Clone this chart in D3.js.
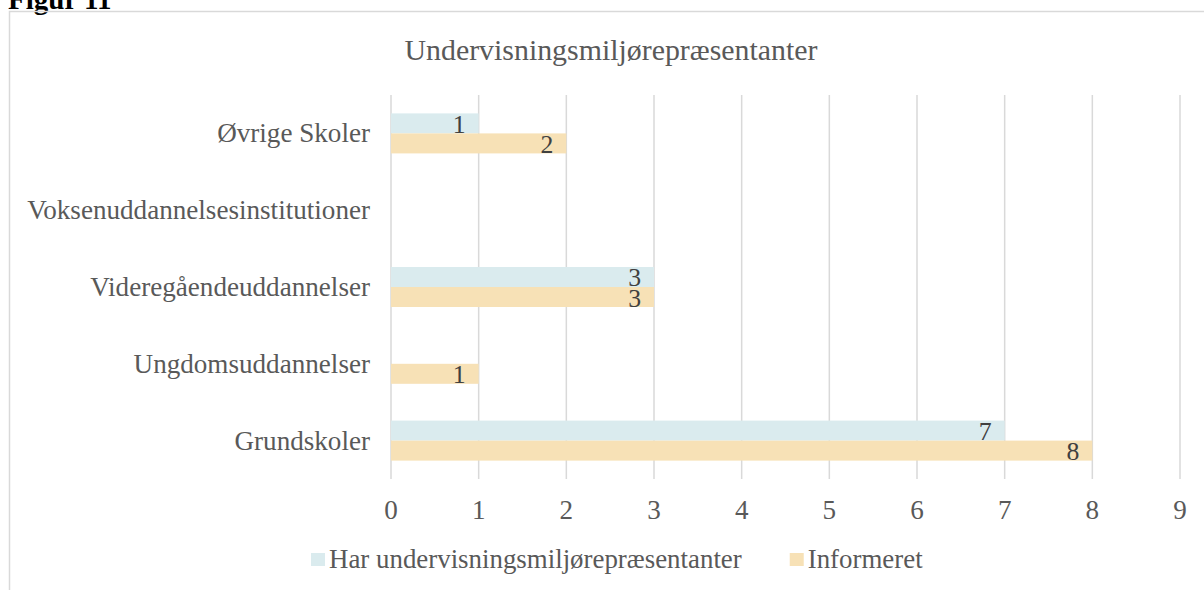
<!DOCTYPE html>
<meta charset="utf-8">
<style>
	body { margin: 0; background: white; }
	text { font-family: "Liberation Serif", Georgia, serif; }
	.grid line { stroke: #d9d9d9; stroke-width: 1.5px; }
	.ticklabel, .catlabel, .legendtext, .title { fill: #595959; }
	.barlabel { fill: #404040; }
</style>
<html>
<body>
<script src="https://d3js.org/d3.v7.min.js"></script>
<script>
	// data
	var categories = ["Grundskoler", "Ungdomsuddannelser", "Videregåendeuddannelser", "Voksenuddannelsesinstitutioner", "Øvrige Skoler"];
	var seriesNames = ["Har undervisningsmiljørepræsentanter", "Informeret"];
	var harRepr = [7, null, 3, null, 1];
	var informeret = [8, 1, 3, null, 2];
	var xTicks = [0, 1, 2, 3, 4, 5, 6, 7, 8, 9];
	var colors = ["#daebee", "#f7e1b6"];

	var width = 1204, height = 590;
	var plot = {left: 391, right: 1180, top: 95, bottom: 479};

	var svg = d3.select("body").append("svg")
		.attr("width", width)
		.attr("height", height);

	// font size that makes a string fill a given width
	function fitSize(str, target, weight) {
		var t = svg.append("text").text(str)
			.style("font-size", "100px")
			.style("font-weight", weight || "normal");
		var w = t.node().getComputedTextLength();
		t.remove();
		return 100 * target / w;
	}

	var catSize = fitSize("Voksenuddannelsesinstitutioner", 343);
	var titleSize = fitSize("Undervisningsmiljørepræsentanter", 413);
	var legendSize = fitSize("Har undervisningsmiljørepræsentanter", 413);
	var tickSize = catSize;

	// "Figur 11" heading, mostly cut off at the top
	svg.append("text")
		.attr("x", 8)
		.attr("y", 9)
		.text("Figur 11")
		.style("font-weight", "bold")
		.style("font-size", "29px")
		.style("fill", "black");

	// chart border
	svg.append("rect")
		.attr("x", 9.5)
		.attr("y", 11.5)
		.attr("width", 1230)
		.attr("height", 620)
		.style("fill", "none")
		.style("stroke", "#d9d9d9")
		.style("stroke-width", "1.5px");

	var x = d3.scaleLinear()
		.domain([0, 9])
		.range([plot.left, plot.right]);

	var y = d3.scaleBand()
		.domain(categories.slice().reverse())
		.range([plot.top, plot.bottom])
		.paddingInner(0.479)
		.paddingOuter(0.2395);

	var ySub = d3.scaleBand()
		.domain([0, 1])
		.range([0, y.bandwidth()]);

	// gridlines
	svg.append("g").attr("class", "grid")
		.selectAll("line")
		.data(xTicks)
		.enter().append("line")
		.attr("x1", d => x(d)).attr("x2", d => x(d))
		.attr("y1", plot.top).attr("y2", plot.bottom);

	// tick labels
	svg.append("g")
		.selectAll("text")
		.data(xTicks)
		.enter().append("text")
		.attr("class", "ticklabel")
		.attr("x", d => x(d))
		.attr("y", 510)
		.attr("text-anchor", "middle")
		.attr("dominant-baseline", "central")
		.style("font-size", tickSize + "px")
		.text(d => d);

	// category labels
	svg.append("g")
		.selectAll("text")
		.data(categories)
		.enter().append("text")
		.attr("class", "catlabel")
		.attr("x", 370)
		.attr("y", d => y(d) + y.bandwidth() / 2)
		.attr("text-anchor", "end")
		.attr("dominant-baseline", "central")
		.style("font-size", catSize + "px")
		.text(d => d);

	var seriesValues = [harRepr, informeret];
	var rows = [];
	seriesValues.forEach(function(vals, s) {
		vals.forEach(function(v, i) {
			if (v != null) rows.push({cat: categories[i], s: s, v: v});
		});
	});

	svg.append("g")
		.selectAll("rect")
		.data(rows)
		.enter().append("rect")
		.attr("x", x(0))
		.attr("y", d => y(d.cat) + ySub(d.s))
		.attr("width", d => x(d.v) - x(0))
		.attr("height", ySub.bandwidth())
		.style("fill", d => colors[d.s]);

	svg.append("g")
		.selectAll("text")
		.data(rows)
		.enter().append("text")
		.attr("class", "barlabel")
		.attr("x", d => x(d.v) - 13)
		.attr("y", d => y(d.cat) + ySub(d.s) + ySub.bandwidth() / 2 + 1)
		.attr("text-anchor", "end")
		.attr("dominant-baseline", "central")
		.style("font-size", (tickSize * 0.95) + "px")
		.text(d => d.v);

	// title
	svg.append("text")
		.attr("class", "title")
		.attr("x", 611)
		.attr("y", 49)
		.attr("text-anchor", "middle")
		.attr("dominant-baseline", "central")
		.style("font-size", titleSize + "px")
		.text("Undervisningsmiljørepræsentanter");

	// legend
	var legend = svg.append("g").attr("transform", "translate(311,560)");
	var lx = 0;
	seriesNames.forEach(function(name, s) {
		legend.append("rect")
			.attr("x", lx).attr("y", -7)
			.attr("width", 14).attr("height", 13)
			.style("fill", colors[s]);
		var t = legend.append("text")
			.attr("class", "legendtext")
			.attr("x", lx + 18)
			.attr("y", -1)
			.attr("dominant-baseline", "central")
			.style("font-size", legendSize + "px")
			.text(name);
		lx += 18 + t.node().getComputedTextLength() + 48;
	});
</script>
</body>
</html>
